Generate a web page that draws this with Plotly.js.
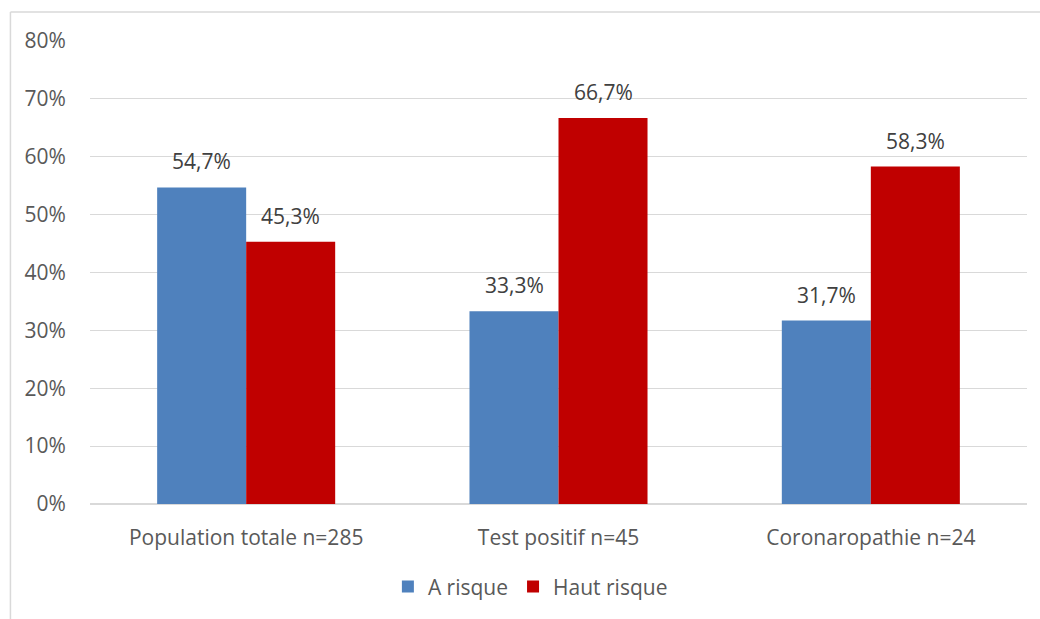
<!DOCTYPE html>
<html>
<head>
<meta charset="utf-8">
<script src="https://cdn.plot.ly/plotly-3.0.1.min.js"></script>
<style>
  html, body { margin: 0; padding: 0; background: #ffffff; }
  #chart { width: 1040px; height: 619px; }
</style>
</head>
<body>
<div id="chart"></div>
<script>
// Share of patients per risk class, for each group
const categories = ['Population totale n=285', 'Test positif n=45', 'Coronaropathie n=24'];
const aRisque = [54.7, 33.3, 31.7];
const hautRisque = [45.3, 66.7, 58.3];
const seriesNames = ['A risque', 'Haut risque'];
const yTicks = [0, 10, 20, 30, 40, 50, 60, 70, 80];

const fmt = v => v.toFixed(1).replace('.', ',') + '%';

const blue = '#4f81bd';
const red = '#c00000';
const font = '"Open Sans", "DejaVu Sans", sans-serif';
const fs = 21;

const traces = [
  { type: 'bar', name: seriesNames[0], x: categories, y: aRisque,
    marker: { color: blue }, hoverinfo: 'skip' },
  { type: 'bar', name: seriesNames[1], x: categories, y: hautRisque,
    marker: { color: red }, hoverinfo: 'skip' }
];

// Value labels above each bar, offset to the bar's half of the group
const barHalf = 44.5;
const annotations = [];
[aRisque, hautRisque].forEach((vals, s) => {
  vals.forEach((v, i) => {
    annotations.push({
      x: categories[i], y: v, xref: 'x', yref: 'y',
      text: fmt(v), showarrow: false,
      xshift: s === 0 ? -barHalf : barHalf,
      yanchor: 'bottom', yshift: 10,
      font: { family: font, size: fs, color: '#404040' }
    });
  });
});

// Chart frame (top and left edges)
const shapes = [
  { type: 'line', xref: 'paper', yref: 'paper', x0: -0.0849, x1: 1.02, y0: 1.0626, y1: 1.0626,
    line: { color: '#d9d9d9', width: 1.5 } },
  { type: 'line', xref: 'paper', yref: 'paper', x0: -0.0849, x1: -0.0849, y0: 1.0626, y1: -0.26,
    line: { color: '#d9d9d9', width: 1.5 } }
];

const layout = {
  width: 1040, height: 619,
  margin: { l: 90, r: 13, t: 41, b: 115 },
  paper_bgcolor: '#ffffff', plot_bgcolor: '#ffffff',
  font: { family: font, size: fs, color: '#595959' },
  barmode: 'group', bargap: 0.43, bargroupgap: 0,
  showlegend: true,
  legend: { orientation: 'h', x: 0.47, xanchor: 'center', y: -0.179, yanchor: 'middle',
            font: { family: font, size: fs, color: '#595959' }, itemwidth: 30, traceorder: 'normal' },
  xaxis: { type: 'category', showgrid: false, zeroline: false, showline: false,
           ticks: 'outside', ticklen: 15, tickcolor: 'rgba(0,0,0,0)',
           tickfont: { family: font, size: fs, color: '#595959' } },
  yaxis: { range: [0, 80], tickvals: yTicks, ticktext: yTicks.map(t => t + '%'),
           showgrid: true, gridcolor: '#d9d9d9', gridwidth: 1,
           zeroline: true, zerolinecolor: '#d9d9d9', zerolinewidth: 1.5,
           showline: false, ticks: 'outside', ticklen: 19, tickcolor: 'rgba(0,0,0,0)',
           tickfont: { family: font, size: fs, color: '#595959' } },
  annotations: annotations,
  shapes: shapes
};

Plotly.newPlot('chart', traces, layout, { displayModeBar: false, staticPlot: true });
</script>
</body>
</html>
